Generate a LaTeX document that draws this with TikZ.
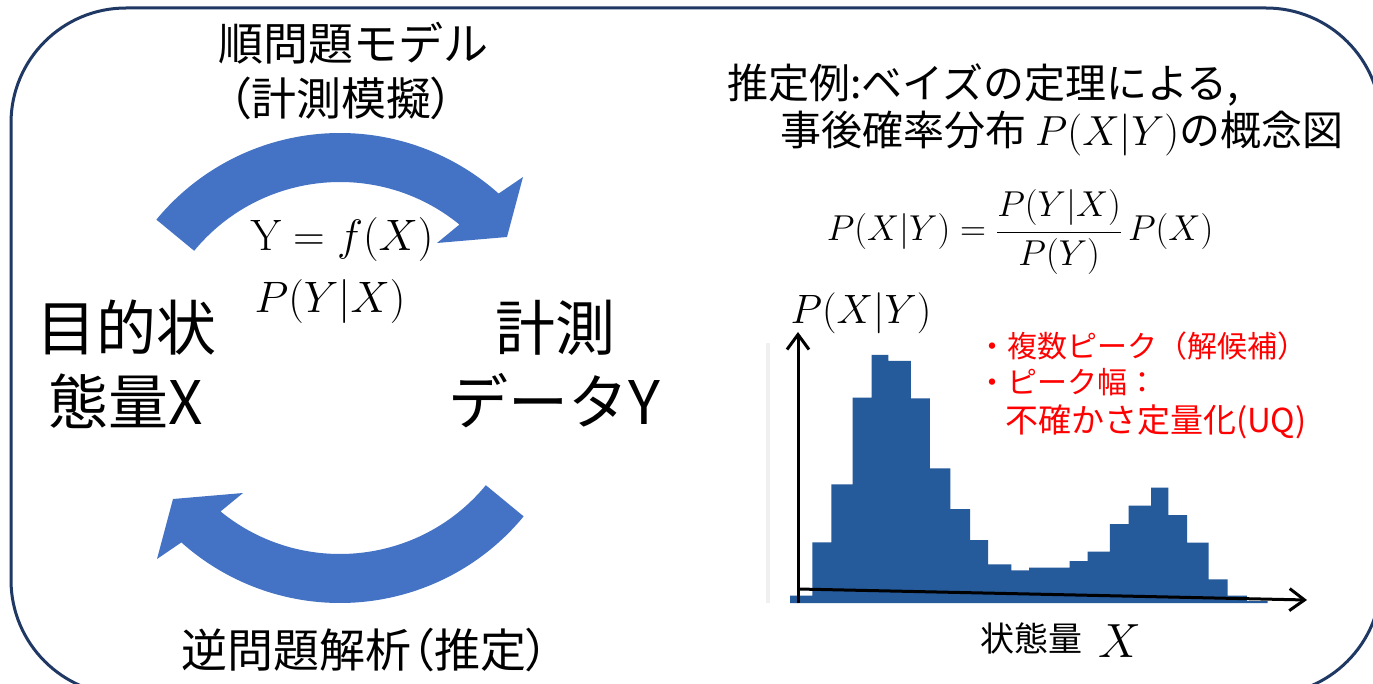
\RequirePackage{fix-cm}
\documentclass[tikz,border=0pt]{standalone}
\usepackage[no-math]{fontspec}
\setmainfont{Noto Sans CJK JP}
\newfontfamily\jpp[RawFeature=+palt]{Noto Sans CJK JP}
\usetikzlibrary{arrows.meta}
\definecolor{arrowblue}{RGB}{68,114,196}
\definecolor{histblue}{RGB}{37,90,155}
\definecolor{framenavy}{RGB}{31,56,100}
\definecolor{redtxt}{RGB}{255,0,0}
\newcommand{\setfs}[1]{\fontsize{#1}{#1}\selectfont}
\tikzset{
  lbl/.style={inner sep=0pt, outer sep=0pt},
  axisline/.style={line width=3pt, black, -{Straight Barb[length=15pt,width=22pt,line width=3pt]}},
  curvedarrow/.style={fill=arrowblue},
}
\begin{document}
\begin{tikzpicture}[x=1pt,y=-1pt]
\useasboundingbox (0,0) rectangle (1373,684);
\clip (0,0) rectangle (1373,684);
\fill[white] (0,0) rectangle (1373,684);
% frame
\draw[line width=3pt, framenavy, rounded corners=115pt] (11,8) rectangle (1381,695);

% forward curved arrow
\begin{scope}[shift={(340,371)}]
  \fill[curvedarrow] (-140.5:238) arc[start angle=-140.5,end angle=-48.2,radius=238]
     -- (183,-194) -- (167,-134) -- (97,-128) -- (-50.8:189)
     arc[start angle=-50.8,end angle=-140.5,radius=189] -- cycle;
\end{scope}
% inverse curved arrow
\begin{scope}[shift={(340,365)}, rotate=180]
  \fill[curvedarrow] (-140.5:238) arc[start angle=-140.5,end angle=-48.2,radius=238]
     -- (183,-194) -- (167,-134) -- (97,-128) -- (-50.8:189)
     arc[start angle=-50.8,end angle=-140.5,radius=189] -- cycle;
\end{scope}

% left texts
\node[lbl, font=\setfs{45}] (fwdtitle) at (353,43) {順問題モデル};
\node[lbl, font=\jpp\setfs{45}] (fwdsub) at (341,98) {（計測模擬）};
\node[lbl, font=\setfs{44}] (fx) at (342,240) {$\mathrm{Y}=f(X)$};
\node[lbl, font=\setfs{44}] (pyx) at (330,302) {$P(Y|X)$};
\node[lbl, font=\setfs{60}] (statea) at (126,328) {目的状};
\node[lbl, font=\setfs{60}] (stateb) at (126,401) {態量X};
\node[lbl, font=\setfs{60}] (measa) at (555,328) {計測};
\node[lbl, font=\setfs{60}] (measb) at (554,401) {データY};
\node[lbl, font=\jpp\setfs{46}] (inv) at (365,650) {逆問題解析（推定）};

% right texts
\node[lbl, anchor=west, font=\setfs{41}] (title1) at (727,85) {推定例:ベイズの定理による,};
\node[lbl, anchor=west, font=\setfs{41}] (title2) at (780,134) {事後確率分布 {\setfs{42}$P(X|Y)$}の概念図};
\node[lbl, font=\setfs{36}] (bayes) at (1020,232) {$\displaystyle P(X|Y)=\frac{P(Y|X)}{P(Y)}\,P(X)$};
\node[lbl, font=\setfs{41}] (plabel) at (861,313) {$P(X|Y)$};

% histogram
\fill[gray!12] (766,343) rectangle (770,603);
\fill[histblue] (790.1,603) -- (790.1,595.7) -- (812.3,595.7) -- (812.3,542.3) -- (831.3,542.3)
 -- (831.3,484.3) -- (852.5,484.3) -- (852.5,397.7) -- (871.5,397.7) -- (871.5,355)
 -- (888.3,355) -- (888.3,361) -- (910.9,361) -- (910.9,398.3) -- (929.9,398.3)
 -- (929.9,468.3) -- (950.4,468.3) -- (950.4,509) -- (970.1,509) -- (970.1,540)
 -- (988,540) -- (988,564.3) -- (1011.3,564.3) -- (1011.3,570.3) -- (1029.2,570.3)
 -- (1029.2,567.7) -- (1069.7,567.7) -- (1069.7,561) -- (1087.7,561) -- (1087.7,551.7)
 -- (1109.9,551.7) -- (1109.9,524) -- (1128.5,524) -- (1128.5,505.7) -- (1151.1,505.7)
 -- (1151.1,487.7) -- (1168.3,487.7) -- (1168.3,515) -- (1187,515) -- (1187,542.7)
 -- (1208.5,542.7) -- (1208.5,579.3) -- (1227.5,579.3) -- (1227.5,595.7) -- (1246.8,595.7)
 -- (1246.8,601) -- (1267.6,601) -- (1267.6,603) -- cycle;

% axes
\coordinate (ybot) at (798,603);
\coordinate (ytop) at (798,332);
\coordinate (xleft) at (798,589);
\coordinate (xright) at (1307,600);
\draw[axisline] (ybot) -- (ytop);
\draw[axisline] (xleft) -- (xright);

% red notes
\node[lbl, anchor=west, text=redtxt, font=\setfs{30}] (note1) at (977,346) {・複数ピーク（解候補）};
\node[lbl, anchor=west, text=redtxt, font=\setfs{30}] (note2) at (977,382) {・ピーク幅：};
\node[lbl, anchor=west, text=redtxt, font=\setfs{33}] (note3) at (1005,422) {不確かさ定量化(UQ)};

% x label
\node[lbl, font=\setfs{34}] (xlabel) at (1031,638) {状態量};
\node[lbl, font=\setfs{48}] (xsym) at (1120,641) {$X$};
\end{tikzpicture}
\end{document}
